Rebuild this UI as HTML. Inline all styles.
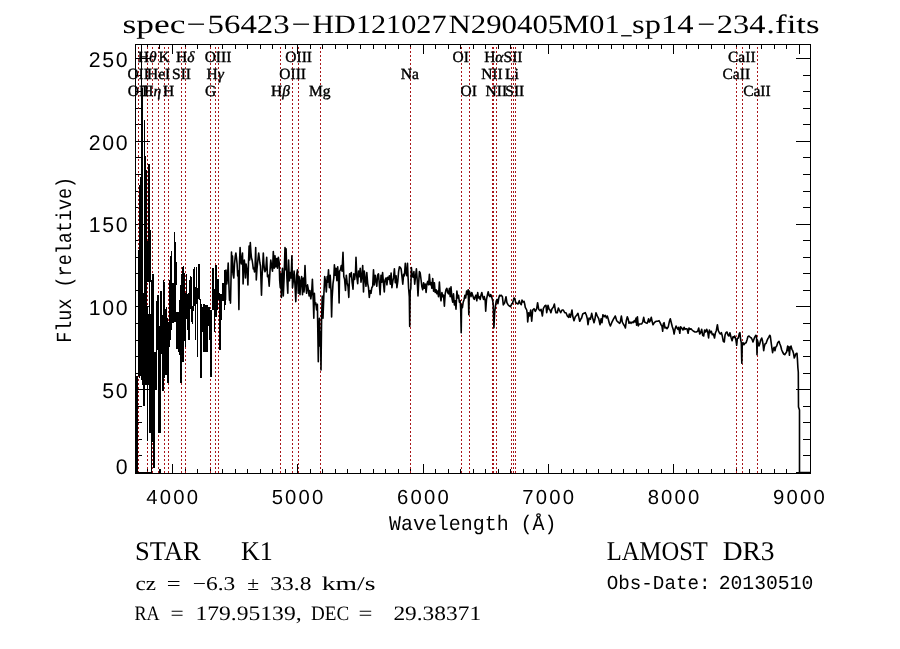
<!DOCTYPE html>
<html><head><meta charset="utf-8"><title>spec-56423-HD121027N290405M01_sp14-234.fits</title>
<style>html,body{margin:0;padding:0;background:#fff;width:900px;height:649px;overflow:hidden}svg{display:block}text{text-rendering:geometricPrecision}</style></head>
<body><svg width="900" height="649" viewBox="0 0 900 649" shape-rendering="crispEdges"><rect x="135.5" y="44.5" width="675" height="429" fill="none" stroke="#000" stroke-width="1"/>
<path d="M147.5 473V469M147.5 44V49M159.5 473V469M159.5 44V49M172.5 473V464M172.5 44V54M185.5 473V469M185.5 44V49M197.5 473V469M197.5 44V49M210.5 473V469M210.5 44V49M222.5 473V469M222.5 44V49M235.5 473V469M235.5 44V49M247.5 473V469M247.5 44V49M260.5 473V469M260.5 44V49M272.5 473V469M272.5 44V49M285.5 473V469M285.5 44V49M297.5 473V464M297.5 44V54M310.5 473V469M310.5 44V49M322.5 473V469M322.5 44V49M335.5 473V469M335.5 44V49M347.5 473V469M347.5 44V49M360.5 473V469M360.5 44V49M373.5 473V469M373.5 44V49M385.5 473V469M385.5 44V49M398.5 473V469M398.5 44V49M410.5 473V469M410.5 44V49M423.5 473V464M423.5 44V54M435.5 473V469M435.5 44V49M448.5 473V469M448.5 44V49M460.5 473V469M460.5 44V49M473.5 473V469M473.5 44V49M485.5 473V469M485.5 44V49M498.5 473V469M498.5 44V49M510.5 473V469M510.5 44V49M523.5 473V469M523.5 44V49M536.5 473V469M536.5 44V49M548.5 473V464M548.5 44V54M561.5 473V469M561.5 44V49M573.5 473V469M573.5 44V49M586.5 473V469M586.5 44V49M598.5 473V469M598.5 44V49M611.5 473V469M611.5 44V49M623.5 473V469M623.5 44V49M636.5 473V469M636.5 44V49M648.5 473V469M648.5 44V49M661.5 473V469M661.5 44V49M673.5 473V464M673.5 44V54M686.5 473V469M686.5 44V49M698.5 473V469M698.5 44V49M711.5 473V469M711.5 44V49M724.5 473V469M724.5 44V49M736.5 473V469M736.5 44V49M749.5 473V469M749.5 44V49M761.5 473V469M761.5 44V49M774.5 473V469M774.5 44V49M786.5 473V469M786.5 44V49M799.5 473V464M799.5 44V54M135 472.5H150M810 472.5H796M135 455.5H142M810 455.5H803M135 439.5H142M810 439.5H803M135 422.5H142M810 422.5H803M135 406.5H142M810 406.5H803M135 389.5H150M810 389.5H796M135 373.5H142M810 373.5H803M135 356.5H142M810 356.5H803M135 340.5H142M810 340.5H803M135 323.5H142M810 323.5H803M135 306.5H150M810 306.5H796M135 290.5H142M810 290.5H803M135 273.5H142M810 273.5H803M135 257.5H142M810 257.5H803M135 240.5H142M810 240.5H803M135 224.5H150M810 224.5H796M135 207.5H142M810 207.5H803M135 191.5H142M810 191.5H803M135 174.5H142M810 174.5H803M135 157.5H142M810 157.5H803M135 141.5H150M810 141.5H796M135 124.5H142M810 124.5H803M135 108.5H142M810 108.5H803M135 91.5H142M810 91.5H803M135 75.5H142M810 75.5H803M135 58.5H150M810 58.5H796" stroke="#000" stroke-width="1" fill="none"/>
<path d="M138.5 47V473M147.5 47V473M152.5 47V473M158.5 47V473M164.5 47V473M168.5 47V473M181.5 47V473M185.5 47V473M210.5 47V473M215.5 47V473M218.5 47V473M280.5 47V473M292.5 47V473M298.5 47V473M320.5 47V473M410.5 47V473M461.5 47V473M469.5 47V473M492.5 47V473M493.5 47V473M496.5 47V473M511.5 47V473M513.5 47V473M515.5 47V473M736.5 47V473M742.5 47V473M757.5 47V473" stroke="#a8161a" stroke-width="1" stroke-dasharray="2 2" fill="none"/>
<path d="M136.5 376.0V473.0M137.5 376.0V473.0M138.5 250.0V376.0M139.5 185.0V378.0M140.5 177.0V376.0M141.5 44.0V380.0M142.5 88.0V385.0M143.5 293.0V406.0M144.5 120.0V406.0M145.5 156.0V385.0M146.5 170.0V385.0M147.5 241.0V282.0M147.5 306.0V441.0M148.5 164.0V282.0M148.5 314.0V385.0M149.5 164.0V433.0M150.5 230.0V282.0M150.5 314.0V433.0M151.5 280.0V473.0M152.5 274.0V442.0M153.5 274.0V468.0M154.5 352.0V468.0M155.5 352.0V390.0M156.5 301.0V390.0M157.5 295.0V350.0M158.5 295.0V433.0M159.5 326.0V433.0M160.5 291.0V433.0M160.5 469.0V473.0M161.5 291.0V354.0M162.5 315.0V391.0M163.5 280.0V391.0M164.5 282.0V378.0M165.5 309.0V375.0M166.5 307.0V375.0M167.5 318.0V383.0M168.5 322.0V383.0M169.5 280.0V347.0M170.5 256.0V340.0M171.5 251.0V330.0M172.5 283.0V323.0M173.5 283.0V323.0M174.5 232.0V322.0M175.5 242.0V322.0M176.5 262.0V285.0M176.5 312.0V349.0M177.5 312.0V349.0M178.5 312.0V352.0M179.5 300.0V355.0M180.5 285.0V383.0M181.5 274.0V383.0M182.5 267.0V362.0M183.5 266.0V362.0M184.5 273.0V341.0M185.5 293.0V347.0M186.5 274.0V319.0M187.5 294.0V330.0M188.5 293.0V340.0M189.5 280.0V340.0M190.5 276.0V309.0M191.5 277.0V322.0M192.5 306.0V324.0M193.5 269.0V311.0M194.5 267.0V306.0M195.5 287.0V340.0M196.5 267.0V304.0M197.5 288.0V357.0M198.5 264.0V299.0M199.5 264.0V300.0M200.5 299.0V378.0M201.5 304.0V378.0M202.5 307.0V332.0M203.5 304.0V352.0M204.5 304.0V352.0M205.5 305.0V352.0M206.5 305.0V352.0M207.5 305.0V352.0M208.5 307.0V326.0M209.5 307.0V340.0M210.5 310.0V377.0M211.5 310.0V377.0M212.5 268.0V310.0M213.5 268.0V310.0M214.5 289.0V332.0M215.5 265.0V317.0M216.5 265.0V317.0M217.5 279.0V310.0M218.5 279.0V300.0M219.5 293.0V350.0M220.5 294.0V350.0M221.5 294.0V320.0M222.5 283.0V301.0M223.5 283.0V301.0M224.5 270.0V310.0M225.5 270.0V305.0M136 472.5H151.5" stroke="#000" stroke-width="1" fill="none"/>
<path d="M225.5 300L226.0 270.0L226.8 284.0L227.5 277.0L228.2 263.0L228.8 282.0L229.5 300.1L230.0 292.1L230.5 303.1L231.0 280.0L231.5 252.0L232.0 272.0L232.5 256.0L233.0 274.0L233.8 278.0L234.5 264.0L235.3 256.0L235.9 253.0L236.5 258.0L237.1 264.0L237.7 276.0L238.3 271.0L238.9 309.6L239.5 262.0L240.1 247.5L240.7 260.0L241.3 264.0L241.9 258.0L242.5 253.0L243.1 284.0L243.7 270.0L244.3 260.0L244.9 266.0L245.5 278.0L246.1 264.0L246.7 268.0L247.3 272.0L247.9 285.0L248.5 263.0L249.1 246.0L249.7 260.0L250.3 242.5L250.9 252.0L251.5 258.0L252.1 260.0L252.7 264.0L253.3 269.0L253.9 268.0L254.5 272.0L255.1 266.0L255.7 247.5L256.3 280.0L256.9 270.0L257.5 264.0L258.1 258.0L258.7 253.0L259.3 258.0L259.9 263.0L260.5 266.0L261.1 284.0L261.5 295.1L262.1 276.0L262.7 266.0L263.3 253.0L263.9 264.0L264.5 270.0L265.0 271.8L265.8 269.7L266.7 257.2L267.5 276.6L268.3 275.2L269.2 286.3L270.0 271.1L270.8 260.0L271.7 266.9L272.5 271.1L273.3 251.6L274.2 268.3L275.0 255.8L275.8 266.9L276.7 258.6L277.5 268.3L278.3 257.2L279.2 262.7L279.7 280.8L280.3 287.7L280.8 273.8L281.4 297.4L281.9 275.2L282.5 268.3L283.3 296.0L284.1 278.0L285.0 247.5L285.5 269.7L286.1 248.9L286.9 278.0L287.8 293.3L288.6 260.0L289.4 280.8L290.2 272.5L291.1 278.0L291.9 255.8L292.5 287.7L293.3 280.8L294.1 271.1L295.0 284.9L295.8 301.6L296.6 275.2L297.5 269.7L298.3 293.3L299.1 276.6L300.0 294.7L300.8 280.8L301.6 276.6L302.5 294.7L303.3 278.0L304.1 291.9L305.0 265.5L305.8 284.9L306.6 293.3L307.5 284.9L308.3 289.1L309.1 296.0L309.9 290.5L310.8 298.8L311.6 293.3L312.4 279.4L313.3 301.6L313.8 318.2L314.4 293.3L314.9 304.4L315.8 303.0L316.6 309.9L317.4 304.4L318.3 361.7L318.8 332.1L319.4 318.2L319.9 346.0L320.5 332.1L321.0 370.0L321.6 318.2L322.2 296.0L323.0 318.2L323.8 296.0L324.7 276.6L325.5 280.8L326.3 291.9L327.2 276.6L327.7 282.2L328.5 269.7L329.4 287.7L330.2 275.2L331.0 290.5L331.6 316.9L332.1 298.8L333.0 283.6L333.8 278.0L334.4 264.8L335.2 275.2L336.0 268.3L336.9 280.8L337.7 266.9L338.5 279.4L339.1 303.0L339.6 271.1L340.5 269.7L341.3 265.5L342.1 271.1L343.0 252.3L343.8 276.6L344.6 279.4L345.5 290.5L346.3 275.2L347.1 282.2L348.0 286.3L348.8 297.4L349.6 273.8L350.5 276.6L351.3 272.5L352.1 282.2L353.0 289.1L353.8 273.8L354.6 279.4L355.5 272.5L356.0 257.2L356.8 276.6L357.7 283.6L358.5 271.1L359.3 276.6L360.2 268.3L361.0 282.2L361.8 276.6L362.7 265.5L363.5 291.9L364.3 271.1L365.2 279.4L366.0 286.3L366.8 272.5L367.7 283.6L368.5 287.7L369.3 297.4L370.2 290.5L371.0 293.3L371.8 287.7L372.7 286.3L373.5 269.7L374.3 284.9L375.2 275.2L376.0 280.8L376.8 286.3L377.6 275.2L378.5 273.8L379.3 283.6L380.1 294.7L381.0 275.2L381.8 282.2L382.6 272.5L383.5 283.6L384.3 291.9L385.0 280.0L386.1 277.9L386.9 284.8L387.8 277.2L388.6 279.3L389.4 275.8L390.3 284.1L391.1 273.0L391.9 287.6L392.8 281.4L393.6 277.2L394.4 268.9L395.3 282.7L396.1 275.8L396.9 287.6L397.8 281.4L398.6 271.6L399.4 266.8L400.3 267.5L401.1 268.9L401.9 275.8L402.8 284.1L403.6 274.4L404.4 275.8L405.3 263.3L406.1 273.0L406.9 275.8L407.5 263.3L408.0 275.8L408.6 288.3L409.3 296.6L409.7 326.4L410.2 291.1L410.8 288.3L411.4 267.5L412.2 275.8L413.0 277.2L413.9 271.6L414.7 284.1L415.5 277.2L416.4 268.9L417.2 280.0L418.0 295.9L418.6 284.1L419.4 271.6L420.2 273.0L421.1 280.0L421.9 286.9L422.7 289.7L423.6 282.7L424.4 288.3L425.2 284.1L426.1 292.5L426.9 284.1L427.7 281.4L428.6 284.8L429.4 274.4L430.2 284.8L431.1 282.7L431.9 288.3L432.7 278.6L433.6 291.1L434.4 282.7L435.2 292.5L436.1 289.7L436.9 293.8L437.7 291.1L438.5 296.6L439.4 282.1L440.2 295.2L441.0 300.8L441.9 292.5L442.7 296.6L443.5 295.2L444.4 306.3L445.2 293.8L446.0 289.7L446.9 288.3L447.7 292.5L448.5 293.8L449.4 288.3L450.2 296.6L451.0 286.9L451.9 298.0L452.7 302.2L453.5 293.8L454.4 304.9L455.2 300.8L456.0 309.1L456.9 291.1L457.7 298.0L458.5 295.2L459.4 302.2L460.2 300.8L460.7 309.8L461.2 332.7L461.6 304.9L462.4 307.7L463.2 302.2L464.1 299.4L464.9 295.2L465.7 298.0L466.6 291.1L467.4 294.5L468.2 289.7L468.8 314.7L469.3 291.1L470.2 293.8L471.0 296.6L471.8 292.5L472.7 295.2L473.5 298.0L474.3 299.4L475.2 296.6L476.0 295.2L476.8 300.8L477.7 292.5L478.5 298.0L479.3 296.6L480.2 299.4L481.0 295.2L481.8 292.5L482.7 296.6L483.5 299.4L484.3 296.6L485.2 300.8L485.7 311.2L486.5 299.4L487.4 295.2L488.2 291.8L489.0 295.2L489.9 296.6L490.7 294.5L491.5 296.6L492.4 299.4L493.2 303.6L493.9 327.8L494.6 313.3L495.4 306.3L496.3 300.8L497.1 299.4L497.9 303.6L498.8 298.0L499.6 295.2L500.0 296.0L501.3 295.3L502.4 296.7L503.3 304.9L504.7 302.7L506.0 296.7L506.9 302.7L508.0 304.7L509.3 306.0L510.4 306.7L511.3 304.9L512.7 302.7L514.0 298.0L514.9 298.7L515.7 302.7L516.7 303.3L518.0 304.0L519.3 300.7L520.0 303.3L521.3 304.7L522.0 300.0L522.9 302.0L524.0 301.3L524.7 304.0L525.3 307.3L526.7 310.0L527.3 314.0L527.7 322.0L528.7 312.7L529.6 316.0L530.7 310.0L531.7 321.3L532.7 310.0L534.0 308.7L535.3 311.3L536.7 308.7L537.6 302.7L538.7 309.3L540.0 310.7L541.1 309.3L542.4 316.0L543.3 308.7L544.7 306.0L546.0 305.3L546.7 312.7L548.0 305.3L549.1 309.3L550.0 310.0L550.9 312.7L552.0 308.7L553.3 307.3L554.4 304.0L555.3 310.0L556.0 312.7L557.3 312.7L558.4 308.0L559.3 310.0L560.7 312.7L562.0 310.0L563.3 310.0L564.7 312.7L566.0 312.7L567.3 316.0L568.7 317.3L569.3 314.0L570.4 317.3L572.0 310.0L572.7 316.0L574.0 320.7L575.3 316.7L576.7 315.3L578.0 313.3L578.7 316.7L579.7 321.3L580.7 319.3L581.6 318.0L582.7 314.0L584.0 313.3L585.3 312.7L586.4 315.3L587.3 318.7L588.0 324.7L589.1 318.0L590.4 319.3L591.7 313.3L592.7 318.0L594.0 322.7L594.9 319.3L596.0 312.7L597.3 316.0L598.7 318.7L600.0 324.7L601.1 318.7L602.0 322.7L602.9 314.7L604.3 316.7L605.3 315.3L606.4 318.0L607.3 316.0L608.3 319.3L609.3 323.3L610.4 326.0L611.7 322.7L613.3 319.3L615.3 316.0L616.7 320.7L618.0 322.0L619.7 323.3L620.3 322.0L621.4 316.0L622.3 322.0L623.3 324.0L624.6 326.0L625.4 328.0L626.3 320.7L627.3 316.7L628.1 318.7L629.0 323.3L629.9 322.0L631.0 323.3L632.1 322.0L633.0 322.7L634.3 320.7L635.0 322.0L636.1 318.0L636.6 325.3L637.4 316.7L638.3 326.0L639.3 324.0L640.3 324.0L641.7 324.0L642.7 322.0L643.7 317.3L644.6 322.0L645.7 322.7L647.0 323.3L647.7 322.0L648.6 318.7L649.4 322.0L650.3 320.7L651.3 317.3L652.1 321.3L653.0 324.7L653.9 323.3L655.0 322.0L656.3 321.3L657.7 321.3L659.0 320.7L660.1 322.7L661.0 324.7L661.9 326.0L662.7 331.3L663.3 324.0L664.1 322.7L665.0 328.0L665.9 327.3L667.0 328.7L668.3 326.7L669.4 321.3L670.3 318.7L671.3 322.7L672.3 326.7L673.4 330.0L674.1 334.0L675.0 329.3L676.1 326.0L677.0 328.0L677.9 329.3L678.7 327.3L679.8 333.3L680.6 326.7L681.7 328.0L683.0 330.0L684.1 327.3L685.0 329.3L685.9 328.7L687.0 328.7L688.1 333.3L689.0 328.0L689.9 329.3L691.0 328.7L692.1 330.0L693.7 331.3L695.0 332.0L696.3 332.0L697.7 331.3L698.7 328.0L699.7 334.0L700.6 332.7L701.7 329.3L702.7 335.3L703.7 336.0L704.6 330.0L705.7 332.0L706.7 329.3L707.7 332.0L708.6 338.0L709.4 330.0L710.5 332.7L711.3 331.3L712.3 334.7L713.4 334.0L714.5 338.0L715.3 333.3L716.3 330.7L717.4 324.7L718.3 330.7L719.3 332.7L720.3 334.0L721.4 332.7L722.3 336.0L723.3 341.3L724.3 342.0L725.0 335.3L725.9 332.7L727.0 332.0L728.1 335.3L729.0 336.0L729.9 332.7L731.0 337.3L732.1 340.7L733.0 336.7L733.9 337.3L734.7 336.0L735.0 336.7L735.9 340.0L736.7 345.3L737.3 338.7L738.3 338.0L739.4 333.3L739.9 332.7L740.7 340.0L741.3 342.7L741.8 363.3L742.3 344.0L743.0 342.7L743.9 344.7L745.0 343.3L746.1 342.7L747.0 340.0L747.9 336.7L749.0 336.0L750.3 337.3L751.4 338.0L752.3 340.0L753.0 342.0L754.1 338.7L755.0 336.7L755.9 335.3L756.5 336.0L757.0 354.7L757.4 340.0L758.1 342.7L759.0 346.0L759.7 344.0L760.7 340.0L761.7 338.0L762.3 340.0L763.0 344.0L763.7 350.7L764.3 346.7L765.0 344.0L766.1 343.3L767.0 340.7L767.9 338.7L768.7 337.3L769.7 335.3L770.3 336.0L771.0 341.3L771.7 346.7L772.6 352.7L773.3 349.3L774.1 347.3L775.0 350.7L775.7 347.3L776.7 346.0L777.7 342.7L778.3 342.0L779.0 341.3L779.9 344.0L780.7 346.0L781.7 350.0L782.6 352.0L783.7 354.0L784.7 354.7L785.7 353.3L786.6 352.0L787.7 346.0L788.3 350.7L789.0 346.7L789.4 355.3L790.1 348.0L791.0 346.0L791.9 349.3L792.7 350.7L793.5 353.3L794.3 358.0L795.1 356.0L795.7 354.0L796.5 353.3L797.0 353.3L797.4 358.7L797.9 368.0L798.3 372L798.5 407L799.5 410L799.5 472.5L810 472.5" stroke="#000" stroke-width="1.6" fill="none" stroke-linejoin="round" shape-rendering="geometricPrecision"/>
<g font-family="Liberation Serif, serif" font-size="15.5" text-anchor="middle" fill="#000" stroke="#000" stroke-width="0.4"><text x="147.2" y="61.5">H<tspan font-style="italic">θ</tspan></text><text x="164.2" y="61.5">K</text><text x="185.3" y="61.5">H<tspan font-style="italic">δ</tspan></text><text x="218.0" y="61.5">OIII</text><text x="298.7" y="61.5">OIII</text><text x="460.8" y="61.5">OI</text><text x="493.8" y="61.5">H<tspan font-style="italic">α</tspan></text><text x="513.0" y="61.5">SII</text><text x="741.8" y="61.5">CaII</text><text x="138.2" y="78.6">OII</text><text x="158.6" y="78.6">HeI</text><text x="181.5" y="78.6">SII</text><text x="215.1" y="78.6">H<tspan font-style="italic">γ</tspan></text><text x="292.7" y="78.6">OIII</text><text x="409.8" y="78.6">Na</text><text x="491.9" y="78.6">NII</text><text x="511.9" y="78.6">Li</text><text x="736.3" y="78.6">CaII</text><text x="138.5" y="95.7">OII</text><text x="151.8" y="95.7">H<tspan font-style="italic">η</tspan></text><text x="168.5" y="95.7">H</text><text x="210.7" y="95.7">G</text><text x="280.4" y="95.7">H<tspan font-style="italic">β</tspan></text><text x="319.8" y="95.7">Mg</text><text x="468.7" y="95.7">OI</text><text x="496.3" y="95.7">NII</text><text x="514.8" y="95.7">SII</text><text x="756.9" y="95.7">CaII</text></g>
<g font-family="Liberation Sans, sans-serif" font-size="21.3" text-anchor="end" letter-spacing="1.6" fill="#000"><text x="129.1" y="397.9">50</text><text x="129.1" y="315.2">100</text><text x="129.1" y="232.4">150</text><text x="129.1" y="149.7">200</text><text x="129.1" y="66.9">250</text><text x="129.1" y="474.2">0</text></g>
<g font-family="Liberation Sans, sans-serif" font-size="20.3" text-anchor="middle" letter-spacing="2.2" fill="#000"><text x="173.2" y="503.9">4000</text><text x="298.6" y="503.9">5000</text><text x="423.9" y="503.9">6000</text><text x="549.2" y="503.9">7000</text><text x="674.6" y="503.9">8000</text><text x="800.0" y="503.9">9000</text></g>
<g font-family="Liberation Serif, serif" font-size="26.5" fill="#000"><text x="122.50" y="32.5" textLength="63.00" lengthAdjust="spacingAndGlyphs">spec</text><text x="186.50" y="32.5" textLength="19.20" lengthAdjust="spacingAndGlyphs">−</text><text x="207.50" y="32.5" textLength="82.20" lengthAdjust="spacingAndGlyphs">56423</text><text x="291.50" y="32.5" textLength="19.20" lengthAdjust="spacingAndGlyphs">−</text><text x="312.30" y="32.5" textLength="134.20" lengthAdjust="spacingAndGlyphs">HD121027</text><text x="448.50" y="32.5" textLength="114.70" lengthAdjust="spacingAndGlyphs">N290405</text><text x="562.40" y="32.5" textLength="57.20" lengthAdjust="spacingAndGlyphs">M01</text><text x="621.30" y="32.5" textLength="10.30" lengthAdjust="spacingAndGlyphs">_</text><text x="632.10" y="32.5" textLength="61.40" lengthAdjust="spacingAndGlyphs">sp14</text><text x="697.30" y="32.5" textLength="18.00" lengthAdjust="spacingAndGlyphs">−</text><text x="716.80" y="32.5" textLength="48.60" lengthAdjust="spacingAndGlyphs">234</text><text x="766.30" y="32.5" textLength="53.30" lengthAdjust="spacingAndGlyphs">.fits</text></g>
<text x="389" y="529.8" font-family="Liberation Mono, monospace" font-size="21" textLength="167.5" lengthAdjust="spacingAndGlyphs">Wavelength (Å)</text>
<text transform="translate(71 259.8) rotate(-90)" font-family="Liberation Mono, monospace" font-size="21.5" text-anchor="middle" textLength="166" lengthAdjust="spacingAndGlyphs">Flux (relative)</text>
<g fill="#000"><text x="135.1" y="560" font-family="Liberation Serif, serif" font-size="27" textLength="65.7" lengthAdjust="spacingAndGlyphs">STAR</text><text x="241.0" y="560" font-family="Liberation Serif, serif" font-size="27" textLength="31.8" lengthAdjust="spacingAndGlyphs">K1</text><text x="606.7" y="560" font-family="Liberation Serif, serif" font-size="27" textLength="101.2" lengthAdjust="spacingAndGlyphs">LAMOST</text><text x="722.7" y="560" font-family="Liberation Serif, serif" font-size="27" textLength="51.9" lengthAdjust="spacingAndGlyphs">DR3</text><text x="135.4" y="589.7" font-family="Liberation Serif, serif" font-size="19.5" textLength="20.5" lengthAdjust="spacingAndGlyphs">cz</text><text x="166.7" y="589.7" font-family="Liberation Serif, serif" font-size="19.5" textLength="13.9" lengthAdjust="spacingAndGlyphs">=</text><text x="192.7" y="589.7" font-family="Liberation Serif, serif" font-size="19.5" textLength="42.6" lengthAdjust="spacingAndGlyphs">−6.3</text><text x="247.2" y="589.7" font-family="Liberation Serif, serif" font-size="19.5" textLength="11.8" lengthAdjust="spacingAndGlyphs">±</text><text x="270.3" y="589.7" font-family="Liberation Serif, serif" font-size="19.5" textLength="41.2" lengthAdjust="spacingAndGlyphs">33.8</text><text x="321.8" y="589.7" font-family="Liberation Serif, serif" font-size="19.5" textLength="53.7" lengthAdjust="spacingAndGlyphs">km/s</text><text x="134.4" y="620.2" font-family="Liberation Serif, serif" font-size="20.5" textLength="25.2" lengthAdjust="spacingAndGlyphs">RA</text><text x="170.4" y="620.2" font-family="Liberation Serif, serif" font-size="20.5" textLength="13.2" lengthAdjust="spacingAndGlyphs">=</text><text x="195.4" y="620.2" font-family="Liberation Serif, serif" font-size="20.5" textLength="106.2" lengthAdjust="spacingAndGlyphs">179.95139,</text><text x="311.0" y="620.2" font-family="Liberation Serif, serif" font-size="20.5" textLength="38.2" lengthAdjust="spacingAndGlyphs">DEC</text><text x="358.5" y="620.2" font-family="Liberation Serif, serif" font-size="20.5" textLength="13.9" lengthAdjust="spacingAndGlyphs">=</text><text x="393.4" y="620.2" font-family="Liberation Serif, serif" font-size="20.5" textLength="87.7" lengthAdjust="spacingAndGlyphs">29.38371</text><text x="606.7" y="589.3" font-family="Liberation Mono, monospace" font-size="19.8" textLength="103.9" lengthAdjust="spacingAndGlyphs">Obs-Date:</text><text x="718.7" y="589.3" font-family="Liberation Mono, monospace" font-size="19.8" textLength="94.6" lengthAdjust="spacingAndGlyphs">20130510</text></g></svg></body></html>
